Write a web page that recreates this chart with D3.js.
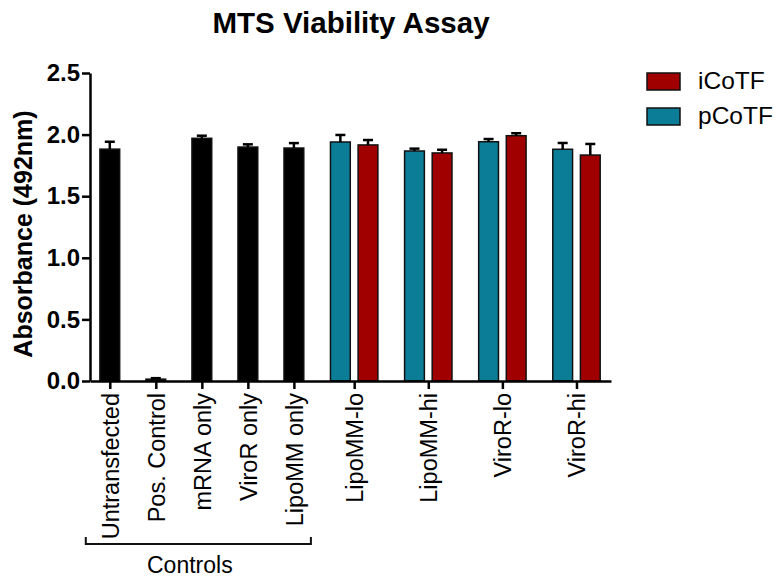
<!DOCTYPE html>
<html>
<head>
<meta charset="utf-8">
<script src="https://cdn.jsdelivr.net/npm/d3@7"></script>
<style>
  body { margin: 0; background: #fff; }
  svg { font-family: "Liberation Sans", Arial, sans-serif; }
</style>
</head>
<body>
<svg id="chart" width="777" height="583"></svg>
<script>

// control columns (single black bars)
const controlLabels = ['Untransfected', 'Pos. Control', 'mRNA only', 'ViroR only', 'LipoMM only'];
const controlMeans = [1.882, 0.015, 1.970, 1.899, 1.891];
const controlErr = [0.06, 0.008, 0.021, 0.022, 0.04];

// grouped columns
const groupLabels = ['LipoMM-lo', 'LipoMM-hi', 'ViroR-lo', 'ViroR-hi'];
const pCoTFMeans = [1.940, 1.867, 1.942, 1.881];
const pCoTFErr = [0.057, 0.019, 0.022, 0.051];
const iCoTFMeans = [1.916, 1.851, 1.991, 1.834];
const iCoTFErr = [0.04, 0.026, 0.02, 0.09];

const seriesNames = ['iCoTF', 'pCoTF'];
const yTicks = [0, 0.5, 1.0, 1.5, 2.0, 2.5];

const colors = { iCoTF: '#a00000', pCoTF: '#0b7d97', control: '#000' };

// layout, in "slot" units (one control column = 1)
const groupStart = 5.31;
const groupStep = 1.61;
const barOffset = 0.3;
const barW = 0.43;

const svg = d3.select('#chart');

const x = d3.scaleLinear().domain([-0.43, 10.89]).range([90, 611]);
const y = d3.scaleLinear().domain([0, 2.5]).range([381, 73]);
const bw = x(barW) - x(0);

// collect bars
var bars = [];
controlMeans.forEach(function (v, i) {
    bars.push({ pos: i, val: v, err: controlErr[i], fill: colors.control });
});
groupLabels.forEach(function (g, j) {
    var c = groupStart + j * groupStep;
    bars.push({ pos: c - barOffset, val: pCoTFMeans[j], err: pCoTFErr[j], fill: colors.pCoTF });
    bars.push({ pos: c + barOffset, val: iCoTFMeans[j], err: iCoTFErr[j], fill: colors.iCoTF });
});

var tickPos = controlLabels.map(function (d, i) { return i; })
    .concat(groupLabels.map(function (d, j) { return groupStart + j * groupStep; }));
var tickLabels = controlLabels.concat(groupLabels);

// bars
svg.append('g').selectAll('rect')
    .data(bars)
    .join('rect')
    .attr('x', function (d) { return x(d.pos) - bw / 2; })
    .attr('y', function (d) { return y(d.val); })
    .attr('width', bw)
    .attr('height', function (d) { return y(0) - y(d.val); })
    .attr('fill', function (d) { return d.fill; })
    .attr('stroke', '#111')
    .attr('stroke-width', 1.5);

// error bars (upper only)
var eb = svg.append('g').attr('stroke', '#000').attr('stroke-width', 2.5);
eb.selectAll('line.v')
    .data(bars)
    .join('line')
    .attr('class', 'v')
    .attr('x1', function (d) { return x(d.pos); })
    .attr('x2', function (d) { return x(d.pos); })
    .attr('y1', function (d) { return y(d.val); })
    .attr('y2', function (d) { return y(d.val + d.err); });
eb.selectAll('line.cap')
    .data(bars)
    .join('line')
    .attr('class', 'cap')
    .attr('x1', function (d) { return x(d.pos) - 5; })
    .attr('x2', function (d) { return x(d.pos) + 5; })
    .attr('y1', function (d) { return y(d.val + d.err); })
    .attr('y2', function (d) { return y(d.val + d.err); });

// y axis
var yAxis = svg.append('g')
    .attr('transform', 'translate(90,0)')
    .call(d3.axisLeft(y).tickValues(yTicks).tickFormat(d3.format('.1f')).tickSize(8).tickSizeOuter(0).tickPadding(2));
yAxis.selectAll('text')
    .style('font-size', '24px')
    .style('font-weight', 'bold')
    .attr('fill', '#000');
yAxis.selectAll('path, line').attr('stroke', '#000').attr('stroke-width', 2.5);

// x axis
var xAxis = svg.append('g')
    .attr('transform', 'translate(0,' + y(0) + ')')
    .call(d3.axisBottom(x).tickValues(tickPos)
        .tickFormat(function (d, i) { return tickLabels[i]; })
        .tickSize(8).tickSizeOuter(0));
xAxis.selectAll('path, line').attr('stroke', '#000').attr('stroke-width', 2.5);
xAxis.selectAll('text')
    .attr('transform', 'rotate(-90)')
    .attr('x', -12)
    .attr('y', 0)
    .attr('dy', '0.35em')
    .attr('text-anchor', 'end')
    .attr('fill', '#000')
    .style('font-size', '23.5px');

// controls bracket
svg.append('path')
    .attr('d', 'M' + (x(-0.5) - 1) + ',537V544H' + (x(4.5) - 6) + 'V537')
    .attr('fill', 'none')
    .attr('stroke', '#111')
    .attr('stroke-width', 2);
svg.append('text')
    .attr('x', x(2) - 12)
    .attr('y', 573)
    .attr('text-anchor', 'middle')
    .style('font-size', '23px')
    .text('Controls');

// title
svg.append('text')
    .attr('x', 351)
    .attr('y', 33)
    .attr('text-anchor', 'middle')
    .style('font-size', '29.5px')
    .style('font-weight', 'bold')
    .text('MTS Viability Assay');

// y axis title
svg.append('text')
    .attr('transform', 'translate(32,234) rotate(-90)')
    .attr('text-anchor', 'middle')
    .style('font-size', '25px')
    .style('font-weight', 'bold')
    .text('Absorbance (492nm)');

// legend
var legend = svg.append('g').selectAll('g')
    .data(seriesNames)
    .join('g')
    .attr('transform', function (d, i) { return 'translate(647,' + (73 + i * 35) + ')'; });
legend.append('rect')
    .attr('width', 33)
    .attr('height', 17)
    .attr('fill', function (d) { return colors[d]; })
    .attr('stroke', '#111')
    .attr('stroke-width', 1.5);
legend.append('text')
    .attr('x', 51)
    .attr('y', 16)
    .style('font-size', '24.5px')
    .text(function (d) { return d; });

</script>
</body>
</html>
